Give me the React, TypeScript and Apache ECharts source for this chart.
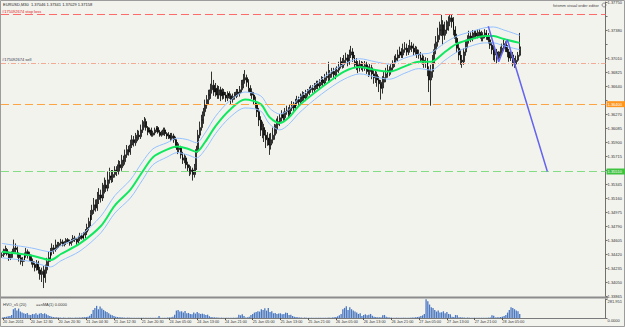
import React, { useEffect, useRef } from "react";
import * as echarts from "echarts";

const HEADER = "EURUSD,M30  1.37046 1.37341 1.37029 1.37158";
const EDITOR_TEXT = "fxtsmm visual order editor";
const VOL_TITLE = "HVO_v5 (20)";
const VOL_MA = "==sMA(1) 0.0000";

const TIME_TICKS = [
  "20 Jan 2011", "20 Jan 12:30", "20 Jan 20:30", "21 Jan 04:30", "21 Jan 12:30", "21 Jan 20:30",
  "24 Jan 05:00", "24 Jan 13:00", "24 Jan 21:00", "25 Jan 05:00", "25 Jan 13:00", "25 Jan 21:00",
  "26 Jan 05:00", "26 Jan 13:00", "26 Jan 21:00", "27 Jan 05:00", "27 Jan 13:00", "27 Jan 21:00",
  "28 Jan 05:00",
];
const TICK_STEP = 16;
const SLOTS = 348;

const FIRST_OPEN = 1.344;
const CLOSE = [
  1.3441,1.3445,1.3448,1.3442,1.3437,1.3440,1.3445,1.3450,1.3448,1.3441,1.3437,1.3432,1.3434,1.3440,1.3445,1.3441,
  1.3437,1.3432,1.3428,1.3424,1.3430,1.3421,1.3415,1.3419,1.3411,1.3421,1.3432,1.3437,1.3445,1.3450,1.3448,1.3454,
  1.3453,1.3456,1.3458,1.3454,1.3457,1.3461,1.3458,1.3456,1.3459,1.3463,1.3461,1.3458,1.3462,1.3466,1.3463,1.3467,
  1.3471,1.3477,1.3485,1.3494,1.3500,1.3507,1.3503,1.3514,1.3520,1.3516,1.3527,1.3533,1.3529,1.3540,1.3545,1.3543,
  1.3547,1.3553,1.3551,1.3560,1.3556,1.3566,1.3564,1.3573,1.3580,1.3577,1.3586,1.3593,1.3589,1.3595,1.3599,1.3597,
  1.3606,1.3613,1.3617,1.3609,1.3603,1.3606,1.3599,1.3602,1.3606,1.3609,1.3603,1.3599,1.3602,1.3606,1.3601,1.3598,
  1.3599,1.3595,1.3598,1.3593,1.3586,1.3580,1.3582,1.3573,1.3566,1.3569,1.3560,1.3556,1.3551,1.3553,1.3547,1.3556,
  1.3580,1.3599,1.3609,1.3619,1.3630,1.3639,1.3646,1.3652,1.3659,1.3665,1.3656,1.3661,1.3652,1.3659,1.3651,1.3656,
  1.3652,1.3648,1.3654,1.3651,1.3646,1.3650,1.3652,1.3656,1.3654,1.3659,1.3665,1.3672,1.3675,1.3669,1.3661,1.3656,
  1.3652,1.3646,1.3639,1.3630,1.3619,1.3606,1.3609,1.3599,1.3593,1.3595,1.3586,1.3593,1.3599,1.3606,1.3613,1.3617,
  1.3622,1.3626,1.3622,1.3630,1.3632,1.3627,1.3635,1.3639,1.3635,1.3642,1.3646,1.3643,1.3648,1.3652,1.3648,1.3654,
  1.3656,1.3659,1.3661,1.3659,1.3664,1.3667,1.3664,1.3669,1.3672,1.3668,1.3675,1.3677,1.3675,1.3680,1.3683,1.3679,
  1.3683,1.3685,1.3690,1.3696,1.3692,1.3698,1.3701,1.3696,1.3705,1.3709,1.3701,1.3696,1.3692,1.3688,1.3693,1.3690,
  1.3688,1.3692,1.3685,1.3683,1.3688,1.3680,1.3675,1.3679,1.3672,1.3667,1.3661,1.3669,1.3675,1.3680,1.3685,1.3683,
  1.3688,1.3693,1.3698,1.3701,1.3705,1.3709,1.3705,1.3712,1.3714,1.3709,1.3712,1.3717,1.3714,1.3709,1.3712,1.3706,
  1.3705,1.3701,1.3698,1.3696,1.3696,1.3685,1.3672,1.3683,1.3698,1.3712,1.3722,1.3731,1.3738,1.3745,1.3731,1.3738,
  1.3741,1.3749,1.3754,1.3749,1.3738,1.3727,1.3714,1.3705,1.3698,1.3696,1.3709,1.3718,1.3725,1.3730,1.3727,1.3731,
  1.3734,1.3730,1.3735,1.3733,1.3727,1.3731,1.3734,1.3730,1.3725,1.3718,1.3712,1.3705,1.3709,1.3701,1.3705,1.3709,
  1.3714,1.3720,1.3714,1.3709,1.3701,1.3705,1.3696,1.3693,1.3698,1.37046,1.37158,
];
const HIGH = [
  1.3444,1.3449,1.3453,1.3450,1.3445,1.3442,1.3449,1.3461,1.3456,1.3452,1.3444,1.3441,1.3438,1.3444,1.3450,1.3448,
  1.3445,1.3441,1.3436,1.3432,1.3434,1.3433,1.3425,1.3424,1.3426,1.3428,1.3437,1.3445,1.3450,1.3456,1.3454,1.3461,
  1.3458,1.3458,1.3462,1.3461,1.3459,1.3463,1.3463,1.3461,1.3462,1.3467,1.3466,1.3463,1.3466,1.3470,1.3469,1.3471,
  1.3475,1.3482,1.3490,1.3500,1.3507,1.3516,1.3514,1.3524,1.3529,1.3527,1.3536,1.3543,1.3540,1.3551,1.3556,1.3553,
  1.3553,1.3558,1.3558,1.3566,1.3565,1.3573,1.3572,1.3580,1.3586,1.3585,1.3593,1.3599,1.3598,1.3602,1.3606,1.3605,
  1.3613,1.3619,1.3623,1.3621,1.3611,1.3609,1.3609,1.3605,1.3609,1.3611,1.3611,1.3606,1.3605,1.3609,1.3609,1.3603,
  1.3603,1.3602,1.3602,1.3601,1.3597,1.3590,1.3588,1.3585,1.3577,1.3574,1.3572,1.3564,1.3560,1.3558,1.3556,1.3561,
  1.3585,1.3606,1.3617,1.3626,1.3635,1.3646,1.3652,1.3659,1.3667,1.3683,1.3672,1.3668,1.3665,1.3664,1.3663,1.3661,
  1.3660,1.3656,1.3657,1.3657,1.3654,1.3654,1.3656,1.3660,1.3660,1.3664,1.3672,1.3680,1.3685,1.3679,1.3673,1.3665,
  1.3661,1.3656,1.3650,1.3643,1.3635,1.3624,1.3617,1.3614,1.3606,1.3603,1.3601,1.3602,1.3609,1.3614,1.3621,1.3624,
  1.3627,1.3632,1.3630,1.3635,1.3638,1.3636,1.3640,1.3644,1.3643,1.3647,1.3651,1.3650,1.3654,1.3657,1.3656,1.3659,
  1.3660,1.3663,1.3665,1.3665,1.3668,1.3671,1.3671,1.3673,1.3677,1.3676,1.3680,1.3683,1.3696,1.3685,1.3688,1.3688,
  1.3688,1.3690,1.3696,1.3702,1.3701,1.3705,1.3708,1.3706,1.3712,1.3717,1.3714,1.3705,1.3701,1.3697,1.3698,1.3697,
  1.3696,1.3697,1.3696,1.3690,1.3693,1.3692,1.3685,1.3684,1.3683,1.3677,1.3672,1.3677,1.3683,1.3688,1.3692,1.3690,
  1.3693,1.3698,1.3704,1.3706,1.3712,1.3716,1.3714,1.3720,1.3722,1.3720,1.3718,1.3725,1.3722,1.3720,1.3717,1.3716,
  1.3712,1.3709,1.3706,1.3704,1.3702,1.3701,1.3690,1.3692,1.3705,1.3720,1.3730,1.3741,1.3749,1.3758,1.3751,1.3749,
  1.3751,1.3756,1.3759,1.3758,1.3755,1.3743,1.3733,1.3720,1.3712,1.3705,1.3714,1.3725,1.3731,1.3737,1.3735,1.3738,
  1.3738,1.3738,1.3739,1.3739,1.3737,1.3735,1.3739,1.3738,1.3734,1.3729,1.3722,1.3717,1.3714,1.3713,1.3710,1.3716,
  1.3720,1.3725,1.3723,1.3718,1.3713,1.3710,1.3709,1.3701,1.3704,1.3709,1.37341,
];
const LOW = [
  1.3437,1.3438,1.3442,1.3440,1.3433,1.3434,1.3437,1.3442,1.3444,1.3437,1.3432,1.3428,1.3426,1.3432,1.3437,1.3436,
  1.3433,1.3428,1.3424,1.3419,1.3420,1.3416,1.3408,1.3405,1.3397,1.3404,1.3416,1.3426,1.3432,1.3440,1.3442,1.3445,
  1.3449,1.3450,1.3453,1.3452,1.3452,1.3454,1.3456,1.3453,1.3453,1.3457,1.3458,1.3454,1.3456,1.3459,1.3461,1.3461,
  1.3463,1.3467,1.3473,1.3479,1.3487,1.3495,1.3498,1.3499,1.3508,1.3510,1.3512,1.3522,1.3524,1.3525,1.3535,1.3536,
  1.3537,1.3543,1.3545,1.3547,1.3551,1.3552,1.3558,1.3560,1.3569,1.3572,1.3573,1.3582,1.3584,1.3585,1.3591,1.3593,
  1.3594,1.3602,1.3609,1.3605,1.3599,1.3601,1.3597,1.3597,1.3599,1.3603,1.3601,1.3597,1.3597,1.3599,1.3598,1.3594,
  1.3594,1.3591,1.3593,1.3589,1.3582,1.3574,1.3576,1.3568,1.3561,1.3562,1.3555,1.3551,1.3545,1.3547,1.3539,1.3543,
  1.3553,1.3576,1.3595,1.3605,1.3614,1.3624,1.3634,1.3640,1.3647,1.3654,1.3651,1.3650,1.3647,1.3647,1.3644,1.3646,
  1.3647,1.3643,1.3644,1.3647,1.3640,1.3642,1.3646,1.3648,1.3650,1.3650,1.3655,1.3661,1.3667,1.3663,1.3656,1.3651,
  1.3647,1.3640,1.3634,1.3623,1.3611,1.3598,1.3595,1.3590,1.3582,1.3585,1.3573,1.3580,1.3588,1.3593,1.3601,1.3606,
  1.3611,1.3617,1.3618,1.3618,1.3626,1.3623,1.3623,1.3631,1.3631,1.3631,1.3638,1.3639,1.3639,1.3644,1.3644,1.3644,
  1.3650,1.3652,1.3655,1.3655,1.3655,1.3660,1.3660,1.3660,1.3665,1.3664,1.3664,1.3671,1.3669,1.3669,1.3675,1.3673,
  1.3673,1.3677,1.3681,1.3687,1.3687,1.3688,1.3693,1.3690,1.3692,1.3701,1.3696,1.3689,1.3685,1.3681,1.3683,1.3685,
  1.3683,1.3684,1.3680,1.3676,1.3677,1.3673,1.3667,1.3668,1.3663,1.3656,1.3646,1.3654,1.3661,1.3669,1.3675,1.3677,
  1.3679,1.3684,1.3689,1.3694,1.3697,1.3701,1.3701,1.3701,1.3708,1.3704,1.3705,1.3708,1.3709,1.3704,1.3705,1.3701,
  1.3700,1.3696,1.3692,1.3688,1.3688,1.3677,1.3656,1.3638,1.3675,1.3693,1.3706,1.3716,1.3725,1.3730,1.3718,1.3725,
  1.3733,1.3737,1.3743,1.3741,1.3731,1.3721,1.3708,1.3698,1.3692,1.3688,1.3692,1.3704,1.3714,1.3720,1.3722,1.3723,
  1.3727,1.3726,1.3727,1.3729,1.3723,1.3723,1.3727,1.3725,1.3720,1.3713,1.3706,1.3698,1.3696,1.3694,1.3696,1.3701,
  1.3705,1.3710,1.3709,1.3702,1.3696,1.3697,1.3690,1.3688,1.3689,1.3696,1.37029,
];
const VOLUME = [
  10,15,20,25,30,45,130,150,110,140,95,80,70,60,75,50,
  45,60,55,70,50,65,75,60,70,55,40,30,20,15,12,10,
  8,6,5,6,4,5,6,5,4,5,6,5,6,8,10,12,
  15,20,35,60,120,150,180,130,170,140,120,100,90,70,50,40,
  30,20,15,12,10,8,6,5,6,5,4,5,4,3,4,3,
  3,4,3,2,3,4,3,5,4,3,30,4,3,4,5,6,
  8,10,20,50,110,120,95,100,80,105,70,75,60,55,80,65,
  90,70,60,65,55,45,50,25,15,12,10,8,6,5,6,5,
  4,5,4,3,4,5,4,6,50,40,55,30,8,10,20,45,
  60,80,90,100,95,130,120,145,110,150,90,100,70,75,60,65,
  70,55,60,80,75,45,50,30,20,15,10,8,6,5,6,5,
  4,5,4,3,4,3,4,5,4,3,4,5,6,5,8,10,
  15,25,40,60,130,150,175,120,160,130,110,95,80,60,70,30,
  45,55,40,50,60,35,20,15,10,12,10,40,45,20,10,8,
  6,5,4,5,4,3,4,5,4,3,4,5,6,8,10,15,
  20,30,40,60,280,250,200,160,150,120,95,110,80,85,100,70,
  90,60,55,20,15,45,40,12,10,8,6,5,6,5,4,5,
  4,3,4,5,4,3,4,5,6,8,40,35,8,10,12,15,
  20,30,45,80,120,160,150,130,110,100,60,
];
const VOL_MAX = 281.951;

const MA_INDEX = [0,17,28,34,45,57,65,74,81,87,95,101,107,112,117,123,131,140,149,154,160,165,171,180,188,197,206,215,223,232,240,247,255,262,269,278,283,289,298];
const MA_GREEN = [1.3445,1.3440,1.3434,1.3442,1.3456,1.3479,1.3506,1.3527,1.3551,1.3570,1.3580,1.3584,1.3581,1.3577,1.3590,1.3611,1.3632,1.3646,1.3640,1.3623,1.3615,1.3622,1.3638,1.3655,1.3669,1.3683,1.3689,1.3685,1.3683,1.3690,1.3696,1.3696,1.3709,1.3720,1.3725,1.3730,1.3730,1.3726,1.3721];
const BAND_UP = [1.3456,1.3450,1.3445,1.3453,1.3466,1.3492,1.3519,1.3540,1.3564,1.3581,1.3589,1.3595,1.3593,1.3589,1.3602,1.3624,1.3644,1.3656,1.3651,1.3635,1.3627,1.3632,1.3648,1.3665,1.3680,1.3693,1.3700,1.3696,1.3693,1.3701,1.3706,1.3708,1.3721,1.3730,1.3735,1.3741,1.3742,1.3738,1.3731];
const BAND_LOW = [1.3437,1.3432,1.3425,1.3433,1.3446,1.3470,1.3496,1.3516,1.3540,1.3560,1.3570,1.3576,1.3573,1.3569,1.3580,1.3601,1.3622,1.3635,1.3631,1.3614,1.3606,1.3613,1.3628,1.3646,1.3660,1.3673,1.3680,1.3676,1.3673,1.3681,1.3687,1.3685,1.3698,1.3709,1.3716,1.3721,1.3721,1.3717,1.3712];

const PROJ_INDEX = [280, 286, 291, 314];
const PROJ_PRICE = [1.3743, 1.3696, 1.3725, 1.3551];

const STOP_LOSS = 1.37587;
const SELL = 1.36944;
const ORANGE_LEVEL = 1.364;
const GREEN_LEVEL = 1.3551;
const BID = 1.37158;
const TICKET = "#175092674";
const BOX_LEVELS = [STOP_LOSS, ORANGE_LEVEL, GREEN_LEVEL, BID];

const Y_MIN = 1.33865;
const Y_MAX = 1.3775;
const Y_STEP = 0.00185;

const FONT = "Liberation Sans";

export default function App() {
  const ref = useRef<HTMLDivElement>(null);
  useEffect(() => {
    const chart = echarts.init(ref.current!, null, { renderer: "svg" });
    const cats = Array.from({ length: SLOTS }, (_, i) => String(i));
    const candles = CLOSE.map((c, i) => [i === 0 ? FIRST_OPEN : CLOSE[i - 1], c, LOW[i], HIGH[i]]);
    const pairs = (ys: number[]) => MA_INDEX.map((x, k) => [x, ys[k]]);
    const tickShown = (idx: number) => idx % TICK_STEP === 0 && idx / TICK_STEP < TIME_TICKS.length;
    const boxLabel = (v: number, bg: string) => ({
      show: true,
      position: "end",
      formatter: v.toFixed(5),
      backgroundColor: bg,
      color: "#ffffff",
      fontSize: 4,
      fontFamily: FONT,
      padding: [1, 3, 1, 1],
      distance: 1,
    });
    const dash = [8, 4];
    chart.setOption({
      animation: false,
      backgroundColor: "#f3f3ee",
      textStyle: { fontFamily: FONT },
      grid: [
        { left: 1, top: 2, width: 607, height: 294 },
        { left: 1, top: 299, width: 607, height: 19 },
      ],
      xAxis: [
        {
          type: "category", gridIndex: 0, data: cats, boundaryGap: true,
          axisLine: { show: false }, axisTick: { show: false }, axisLabel: { show: false }, splitLine: { show: false },
        },
        {
          type: "category", gridIndex: 1, data: cats, boundaryGap: true,
          axisLine: { show: true, lineStyle: { color: "#7a7a7a", width: 1 } },
          axisTick: { show: true, interval: (i: number) => tickShown(i), length: 2, alignWithLabel: true, lineStyle: { color: "#555" } },
          axisLabel: {
            interval: (i: number) => tickShown(i),
            formatter: (_v: string, i: number) => TIME_TICKS[i / TICK_STEP] ?? "",
            fontSize: 3.8, color: "#333", align: "left", margin: 2, fontFamily: FONT,
          },
          splitLine: { show: false },
        },
      ],
      yAxis: [
        {
          type: "value", gridIndex: 0, position: "right", min: Y_MIN, max: Y_MAX, interval: Y_STEP,
          axisLine: { show: true, lineStyle: { color: "#707070", width: 1 } },
          axisTick: { show: true, length: 2, lineStyle: { color: "#707070" } },
          axisLabel: {
            fontSize: 4, color: "#333", margin: 2, fontFamily: FONT,
            formatter: (v: number) => (BOX_LEVELS.some((b) => Math.abs(b - v) < 0.0007) ? "" : v.toFixed(5)),
          },
          splitLine: { show: false },
        },
        {
          type: "value", gridIndex: 1, position: "right", min: 0, max: VOL_MAX, interval: VOL_MAX,
          axisLine: { show: true, lineStyle: { color: "#707070", width: 1 } },
          axisTick: { show: true, length: 2, lineStyle: { color: "#707070" } },
          axisLabel: { fontSize: 4, color: "#333", margin: 2, fontFamily: FONT, verticalAlign: "top",
            formatter: (v: number) => (v === 0 ? "0.0000" : v.toFixed(3)) },
          splitLine: { show: false },
        },
      ],
      series: [
        {
          type: "candlestick", xAxisIndex: 0, yAxisIndex: 0, data: candles, barWidth: 1.4,
          itemStyle: { color: "#ffffff", color0: "#000000", borderColor: "#000000", borderColor0: "#000000", borderWidth: 0.8 },
          markLine: {
            silent: true, symbol: ["none", "none"], animation: false, precision: 5,
            data: [
              { yAxis: STOP_LOSS, lineStyle: { color: "#ff6a6a", type: dash, width: 1.2 },
                label: { show: true, position: "insideStartTop", formatter: TICKET + " stop loss", color: "#e02020", fontSize: 4, fontFamily: FONT, distance: 1 } },
              { yAxis: STOP_LOSS, lineStyle: { opacity: 0 }, label: boxLabel(STOP_LOSS, "#ff1a1a") },
              { yAxis: SELL, lineStyle: { color: "#f2ab96", type: [5, 2, 1, 2], width: 1 },
                label: { show: true, position: "insideStartTop", formatter: TICKET + " sell", color: "#33334d", fontSize: 4, fontFamily: FONT, distance: 1 } },
              { yAxis: ORANGE_LEVEL, lineStyle: { color: "#ffa442", type: dash, width: 1.2 }, label: boxLabel(ORANGE_LEVEL, "#ff9620") },
              { yAxis: GREEN_LEVEL, lineStyle: { color: "#84dc84", type: dash, width: 1.2 }, label: boxLabel(GREEN_LEVEL, "#3fc23f") },
              { yAxis: BID, lineStyle: { opacity: 0 }, label: boxLabel(BID, "#2c4444") },
            ],
          },
        },
        {
          type: "line", xAxisIndex: 0, yAxisIndex: 0, data: pairs(BAND_UP), symbol: "none", smooth: 0.3,
          lineStyle: { color: "#93c1ff", width: 1 }, z: 3,
        },
        {
          type: "line", xAxisIndex: 0, yAxisIndex: 0, data: pairs(BAND_LOW), symbol: "none", smooth: 0.3,
          lineStyle: { color: "#93c1ff", width: 1 }, z: 3,
        },
        {
          type: "line", xAxisIndex: 0, yAxisIndex: 0, data: pairs(MA_GREEN), symbol: "none", smooth: 0.3,
          lineStyle: { color: "#10e860", width: 2 }, z: 4,
        },
        {
          type: "line", xAxisIndex: 0, yAxisIndex: 0, data: PROJ_INDEX.map((x, k) => [x, PROJ_PRICE[k]]), symbol: "none",
          lineStyle: { color: "#6464ee", width: 1.5 }, z: 5,
        },
        {
          type: "bar", xAxisIndex: 1, yAxisIndex: 1, data: VOLUME, barWidth: 1.3,
          itemStyle: { color: "#4a78c2" },
        },
      ],
      graphic: [
        { type: "rect", shape: { x: 0, y: 296.5, width: 608, height: 2 }, style: { fill: "#8c8c8c" }, silent: true },
        { type: "rect", shape: { x: 0.5, y: 0.5, width: 624, height: 326 }, style: { fill: "none", stroke: "#9c9c9c", lineWidth: 1 }, silent: true },
        { type: "text", x: 3, y: 2, style: { text: HEADER, fontSize: 4, fill: "#222", fontFamily: FONT } },
        { type: "text", x: 553, y: 3, style: { text: EDITOR_TEXT, fontSize: 4, fill: "#444", fontFamily: FONT } },
        { type: "circle", shape: { cx: 604, cy: 5, r: 2 }, style: { fill: "none", stroke: "#555", lineWidth: 0.6 } },
        { type: "text", x: 3, y: 302, style: { text: VOL_TITLE, fontSize: 4, fill: "#333", fontFamily: FONT } },
        { type: "text", x: 36, y: 302, style: { text: VOL_MA, fontSize: 4, fill: "#333", fontFamily: FONT } },
      ],
    });
    return () => chart.dispose();
  }, []);
  return <div ref={ref} style={{ position: "fixed", left: 0, top: 0, width: 625, height: 327 }} />;
}
